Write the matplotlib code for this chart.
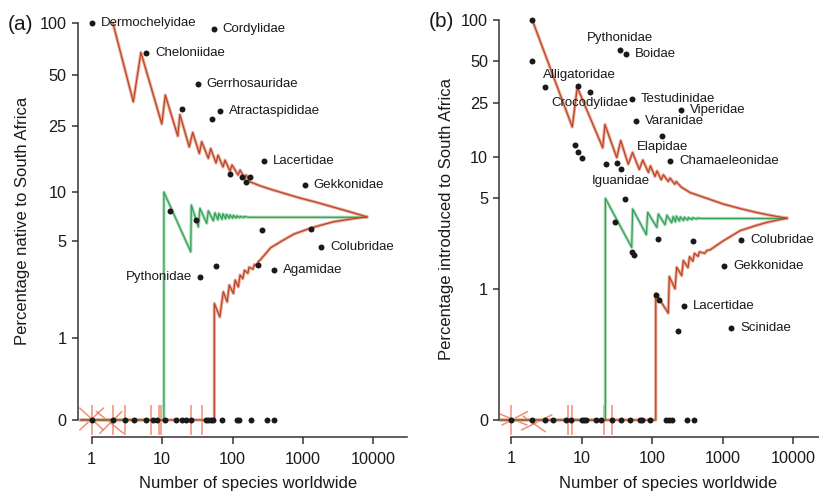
import matplotlib
matplotlib.use("Agg")
import matplotlib.pyplot as plt
import numpy as np

plt.rcParams['font.family'] = ['Liberation Sans', 'DejaVu Sans']

# ---- panel (a): native species -------------------------------------------
a_lab_names = ['Dermochelyidae', 'Cordylidae', 'Cheloniidae', 'Gerrhosauridae',
               'Atractaspididae', 'Lacertidae', 'Gekkonidae', 'Colubridae',
               'Agamidae', 'Pythonidae']
a_lab_x = [1, 54, 6, 32, 66, 277, 1060, 1825, 385, 35]
a_lab_y = [100, 93, 66.7, 43.8, 30.4, 15.5, 11.1, 4.56, 3.19, 2.86]
a_pt_x = [19.2, 51, 93, 138, 179, 157, 12.9, 30, 260, 1303, 59, 232]
a_pt_y = [31.5, 27.5, 12.9, 12.3, 12.3, 11.5, 7.7, 6.7, 5.8, 5.88, 3.41, 3.46]
a_zero_x = [1, 2, 3, 4, 6, 7.5, 8.5, 11, 16, 19, 22, 26, 42, 45, 49, 52, 70,
            115, 124, 182, 306, 390]

a_up_x = [2, 3.9, 5.0, 9.9, 11.1, 16.7, 17.9, 24.3, 27.2, 33.8, 36.5, 45.3, 49,
          58.3, 62.3, 73.3, 78.3, 92.2, 98.4, 120, 128, 150, 156, 177, 250, 376,
          600, 910, 1500, 2680, 4500, 8050]
a_up_y = [100, 34.6, 67.4, 25.6, 37.9, 21.7, 29.1, 18.7, 22.8, 17.1, 20.1, 16.0,
          18.3, 15.0, 16.7, 14.2, 15.6, 13.4, 14.6, 12.7, 13.6, 12.1, 12.7, 11.55,
          10.9, 10.3, 9.7, 9.2, 8.7, 8.1, 7.6, 7.05]
a_mid_x = [0.7, 10.6, 10.6, 25.5, 26.0, 32.7, 34.5, 43, 45.3, 53.4, 56.4, 62, 64,
           71, 73, 80, 82, 90, 92, 101, 103, 113, 115, 127, 129, 145, 147, 170, 8050]
a_mid_y = [0, 0, 10.0, 4.23, 8.33, 6.1, 7.95, 6.42, 7.68, 6.66, 7.46, 6.75, 7.4,
           6.8, 7.35, 6.85, 7.3, 6.9, 7.25, 6.9, 7.2, 6.93, 7.15, 6.95, 7.1, 6.97,
           7.08, 7.0, 7.0]
a_low_x = [0.7, 55.2, 55.2, 66, 74, 84, 90, 103, 109, 121, 128, 140, 148, 165,
           172, 195, 205, 225, 232, 246, 350, 527, 750, 1262, 1800, 2700, 4500, 8050]
a_low_y = [0, 0, 1.87, 1.48, 2.27, 1.92, 2.53, 2.21, 2.74, 2.46, 2.97, 2.8, 3.2,
           3.05, 3.35, 3.25, 3.5, 3.4, 3.65, 3.73, 4.5, 5.03, 5.5, 5.97, 6.25,
           6.56, 6.8, 7.05]
a_spike_x = [1, 2, 3, 6.9, 9.0, 9.5, 25.4, 36.5]
a_spike_y = (-0.09, 0.11)
a_cross = [((0.68, 1.46), (-0.062, 0.085)), ((0.68, 1.46), (0.085, -0.062)),
           ((1.18, 2.81), (0.058, -0.081)), ((1.31, 2.67), (-0.081, 0.058))]

# ---- panel (b): introduced species ---------------------------------------
b_lab_names = ['Pythonidae', 'Boidae', 'Alligatoridae', 'Crocodylidae',
               'Testudinidae', 'Viperidae', 'Varanidae', 'Elapidae',
               'Chamaeleonidae', 'Iguanidae', 'Colubridae', 'Gekkonidae',
               'Lacertidae', 'Scinidae']
b_lab_x = [35.5, 43.2, 3.04, 13, 51.5, 258, 59.3, 139, 180, 36.3, 1830, 1050, 284, 1321]
b_lab_y = [60.9, 56.5, 32.4, 30, 26.6, 22.2, 18.3, 14.2, 9.35, 8.22, 2.41, 1.51, 0.72, 0.46]
b_pt_x = [2, 2, 9, 8.1, 9, 10, 22, 31.9, 41.4, 30.2, 120, 378, 52.6, 55, 113, 126, 231]
b_pt_y = [100, 50, 33.3, 12.25, 10.9, 9.9, 8.95, 9.06, 4.89, 3.31, 2.46, 2.35, 1.93,
          1.84, 0.89, 0.80, 0.43]
b_zero_x = [1, 2, 3, 4, 6, 7, 10, 11, 11.5, 16, 19, 27, 36, 48, 68, 71, 94, 158,
            176, 190, 311, 395]

b_up_x = [2, 7.4, 8.7, 20, 21.5, 31.6, 36, 46, 53, 66, 74, 89, 95, 110, 118, 135,
          145, 170, 180, 210, 220, 260, 346, 600, 1026, 1800, 3055, 5000, 8140]
b_up_y = [100, 16.6, 32.4, 11.7, 17.3, 9.9, 13.2, 8.85, 10.8, 8.1, 9.5, 7.7, 8.6,
          7.2, 7.9, 6.8, 7.4, 6.6, 7.0, 6.3, 6.6, 6.0, 5.47, 4.95, 4.49, 4.15,
          3.88, 3.68, 3.52]
b_mid_x = [0.7, 21.8, 21.8, 51.5, 53.2, 83, 87, 117, 123, 153, 163, 190, 200, 215,
           222, 245, 252, 280, 288, 320, 328, 370, 378, 430, 440, 500, 8140]
b_mid_y = [0, 0, 4.95, 2.11, 4.12, 2.64, 3.89, 3.0, 3.78, 3.14, 3.70, 3.25, 3.62,
           3.3, 3.64, 3.35, 3.6, 3.38, 3.58, 3.4, 3.56, 3.43, 3.55, 3.46, 3.53,
           3.5, 3.5]
b_low_x = [0.7, 113, 113, 170, 176, 212, 224, 264, 278, 324, 341, 380, 400, 450,
           470, 560, 600, 665, 1000, 1770, 3000, 4240, 8140]
b_low_y = [0, 0, 0.91, 0.62, 1.25, 0.995, 1.48, 1.27, 1.67, 1.47, 1.79, 1.65, 1.9,
           1.8, 1.95, 1.9, 2.0, 2.02, 2.35, 2.83, 3.1, 3.27, 3.52]
b_spike_x = [1, 6.4, 7.25, 21.1, 26.8]
b_spike_y = (-0.028, 0.036)
b_cross = [((0.70, 1.67), (0.013, -0.010)), ((0.75, 1.7), (-0.010, 0.0186)),
           ((1.42, 3.78), (-0.019, 0.011)), ((1.50, 3.04), (0.008, -0.022))]

x_ticks = [1, 10, 100, 1000, 10000]
y_ticks = [0, 1, 5, 10, 25, 50, 100]

W, H = 820, 494
fig = plt.figure(figsize=(W / 100, H / 100), dpi=100)
ink = '#1a1a1a'
red_light, red_dark = '#eba38a', '#b8462d'
grn_light, grn_dark = '#a6d9b2', '#33a05a'


def axes_px(left, top, width, height):
    return fig.add_axes([left / W, 1 - (top + height) / H, width / W, height / H])


def setup(ax, off, xlim, ylim):
    ax.set_xscale('log')
    ax.set_yscale('function', functions=(
        lambda y: np.log10(np.maximum(np.asarray(y) + off, 1e-9)),
        lambda t: 10 ** np.asarray(t) - off))
    ax.set_xlim(*xlim)
    ax.set_ylim(*ylim)
    ax.set_xticks(x_ticks, [str(t) for t in x_ticks])
    ax.set_yticks(y_ticks, [str(t) for t in y_ticks])
    ax.minorticks_off()
    ax.xaxis.set_minor_locator(matplotlib.ticker.NullLocator())
    ax.tick_params(axis='both', colors='#333333', labelcolor=ink, labelsize=11.7, width=1.1)
    ax.tick_params(axis='x', length=5, pad=5.5)
    ax.tick_params(axis='y', length=4.5, pad=3.5)
    for s in ('top', 'right'):
        ax.spines[s].set_visible(False)
    ax.spines['left'].set_bounds(0, 100)
    ax.spines['bottom'].set_bounds(1, 3e4)
    for s in ('left', 'bottom'):
        ax.spines[s].set_color('#333333')
        ax.spines[s].set_linewidth(1.1)
    ax.patch.set_alpha(0)


def funnel(ax, xs, ys, light, dark):
    ax.plot(xs, ys, color=light, lw=2.3, alpha=0.9, zorder=2)
    ax.plot(xs, ys, color=dark, lw=0.9, zorder=3)


def draw(ax, up, mid, low, spikes, spike_y, crosses, pts, zero_x, labs, offsets):
    for xs, ys in crosses:
        ax.plot(xs, ys, color='#f07a5e', lw=1.1, alpha=0.85, zorder=2)
    ax.vlines(spikes, spike_y[0], spike_y[1], color='#f07a5e', lw=1.1, alpha=0.85, zorder=2)
    funnel(ax, *mid, grn_light, grn_dark)
    funnel(ax, *low, red_light, red_dark)
    funnel(ax, *up, red_light, red_dark)
    ax.plot(pts[0], pts[1], 'o', color=ink, ms=4.3, mew=0, zorder=5)
    ax.plot(zero_x, np.zeros(len(zero_x)), 'o', color=ink, ms=4.3, mew=0, zorder=5)
    names, lx, ly = labs
    ax.plot(lx, ly, 'o', color=ink, ms=4.3, mew=0, zorder=5)
    for n, x, y, (dx, dy, ha) in zip(names, lx, ly, offsets):
        ax.annotate(n, (x, y), xytext=(dx, dy), textcoords='offset pixels',
                    ha=ha, va='center', fontsize=9.5, color=ink, zorder=6)


R = (9, 0, 'left')
ax_a = axes_px(77.7, 15.1, 334.4, 421.9)
setup(ax_a, 0.5, (10 ** -0.199, 10 ** 4.551), (10 ** -0.400 - 0.5, 10 ** 2.0486 - 0.5))
a_off = [R] * 9 + [(-8, 0, 'right')]
draw(ax_a, (a_up_x, a_up_y), (a_mid_x, a_mid_y), (a_low_x, a_low_y),
     a_spike_x, a_spike_y, a_cross, (a_pt_x, a_pt_y), a_zero_x,
     (a_lab_names, a_lab_x, a_lab_y), a_off)

ax_b = axes_px(499.3, 12, 332.5, 424.7)
setup(ax_b, 0.125, (10 ** -0.166, 10 ** 4.55), (10 ** -1.0243 - 0.125, 10 ** 2.058 - 0.125))
b_off = [(0, 12, 'center'), R, (-2.5, 12, 'left'), (0, -11, 'center'), R, R, R,
         (0, -11, 'center'), R, (0, -12, 'center'), R, R, R, R]
draw(ax_b, (b_up_x, b_up_y), (b_mid_x, b_mid_y), (b_low_x, b_low_y),
     b_spike_x, b_spike_y, b_cross, (b_pt_x, b_pt_y), b_zero_x,
     (b_lab_names, b_lab_x, b_lab_y), b_off)


def ftext(x, y, s, **kw):
    fig.text(x / W, 1 - y / H, s, color=ink, **kw)


ftext(7.3, 24, '(a)', fontsize=15, ha='left', va='center')
ftext(429, 21.7, '(b)', fontsize=15, ha='left', va='center')
ftext(23, 221, 'Percentage native to South Africa', fontsize=12, rotation=90,
      ha='center', va='center')
ftext(447, 219, 'Percentage introduced to South Africa', fontsize=12, rotation=90,
      ha='center', va='center')
ftext(248.3, 483, 'Number of species worldwide', fontsize=12, ha='center', va='center')
ftext(667.7, 483, 'Number of species worldwide', fontsize=12, ha='center', va='center')

fig.savefig('out.png', dpi=100)
